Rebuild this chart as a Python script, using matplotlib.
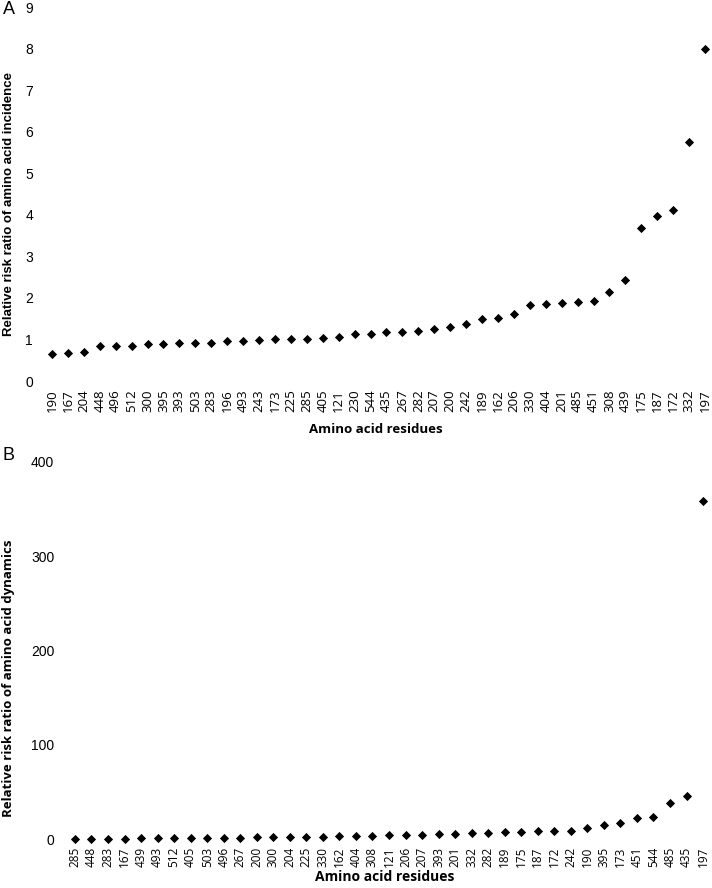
import matplotlib
matplotlib.use("Agg")
import matplotlib.pyplot as plt

# Panel A data
a_residues = ["190", "167", "204", "448", "496", "512", "300", "395", "393", "503",
              "283", "196", "493", "243", "173", "225", "285", "405", "121", "230",
              "544", "435", "267", "282", "207", "200", "242", "189", "162", "206",
              "330", "404", "201", "485", "451", "308", "439", "175", "187", "172",
              "332", "197"]
a_values = [0.64, 0.67, 0.69, 0.84, 0.85, 0.85, 0.88, 0.88, 0.91, 0.92,
            0.92, 0.96, 0.97, 0.99, 1.01, 1.01, 1.02, 1.03, 1.05, 1.12,
            1.14, 1.17, 1.19, 1.20, 1.26, 1.30, 1.38, 1.49, 1.51, 1.62,
            1.82, 1.85, 1.88, 1.90, 1.92, 2.14, 2.43, 3.68, 3.97, 4.12,
            5.76, 8.00]
a_yticks = [0, 1, 2, 3, 4, 5, 6, 7, 8, 9]

# Panel B data
b_residues = ["285", "448", "283", "167", "439", "493", "512", "405", "503", "496",
              "267", "200", "300", "204", "225", "330", "162", "404", "308", "121",
              "206", "207", "393", "201", "332", "282", "189", "175", "187", "172",
              "242", "190", "395", "173", "451", "544", "485", "435", "197"]
b_values = [0.2, 0.3, 0.4, 0.5, 0.7, 0.6, 0.7, 0.9, 1.0, 1.1,
            1.3, 1.6, 1.8, 2.1, 2.5, 2.6, 2.8, 3.0, 3.1, 3.9,
            4.6, 4.7, 5.0, 5.3, 6.0, 6.1, 7.0, 7.4, 8.4, 8.5,
            8.6, 11.6, 14.8, 17.3, 21.9, 23.0, 38.4, 45.8, 358.0]
b_yticks = [0, 100, 200, 300, 400]

W, H = 712, 888
fig = plt.figure(figsize=(W / 100, H / 100), dpi=100)

tick_font = "Liberation Sans"
xtick_font = "Open Sans"


def style(ax, n, ymax, yticks, ypad, xpad):
    ax.set_xlim(-0.5, n - 0.5)
    ax.set_ylim(0, ymax)
    for s in ax.spines.values():
        s.set_visible(False)
    ax.set_yticks(yticks)
    ax.set_yticklabels([str(t) for t in yticks], fontfamily=tick_font, fontsize=10)
    ax.tick_params(axis="y", length=0, pad=ypad)
    ax.tick_params(axis="x", length=0, pad=xpad)


# Panel A
axA = fig.add_axes([44 / W, (H - 381) / H, 669 / W, 374 / H])
axA.scatter(range(len(a_values)), a_values, marker="D", s=22, color="black",
            linewidths=0, clip_on=False)
style(axA, len(a_values), 9, a_yticks, 8, 6)
axA.set_xticks(range(len(a_residues)))
axA.set_xticklabels(a_residues, rotation=90, fontfamily=xtick_font, fontsize=9.5)
fig.text(9 / W, 1 - 204 / H, "Relative risk ratio of amino acid incidence",
         rotation=90, ha="center", va="center", fontfamily="Liberation Sans",
         fontweight="bold", fontsize=9.5)
fig.text(376 / W, 1 - 429 / H, "Amino acid residues", ha="center", va="center",
         fontfamily="Open Sans", fontweight="bold", fontsize=9.5)
fig.text(3 / W, 1 - 10 / H, "A", ha="left", va="center", fontfamily="Liberation Sans",
         fontsize=13)

# Panel B
axB = fig.add_axes([66.7 / W, (H - 839) / H, 644.6 / W, 377.3 / H])
axB.scatter(range(len(b_values)), b_values, marker="D", s=22, color="black",
            linewidths=0, clip_on=False)
style(axB, len(b_values), 400, b_yticks, 9, 5.5)
axB.set_xticks(range(len(b_residues)))
axB.set_xticklabels(b_residues, rotation=90, fontfamily=xtick_font, fontsize=8.5)
fig.text(9 / W, 1 - 678 / H, "Relative risk ratio of amino acid dynamics",
         rotation=90, ha="center", va="center", fontfamily="Open Sans",
         fontweight="bold", fontsize=9.5)
fig.text(385 / W, 1 - 877 / H, "Amino acid residues", ha="center", va="center",
         fontfamily="Open Sans", fontweight="bold", fontsize=10)
fig.text(3 / W, 1 - 455 / H, "B", ha="left", va="center", fontfamily="Liberation Sans",
         fontsize=13)

fig.savefig("out.png", dpi=100)
